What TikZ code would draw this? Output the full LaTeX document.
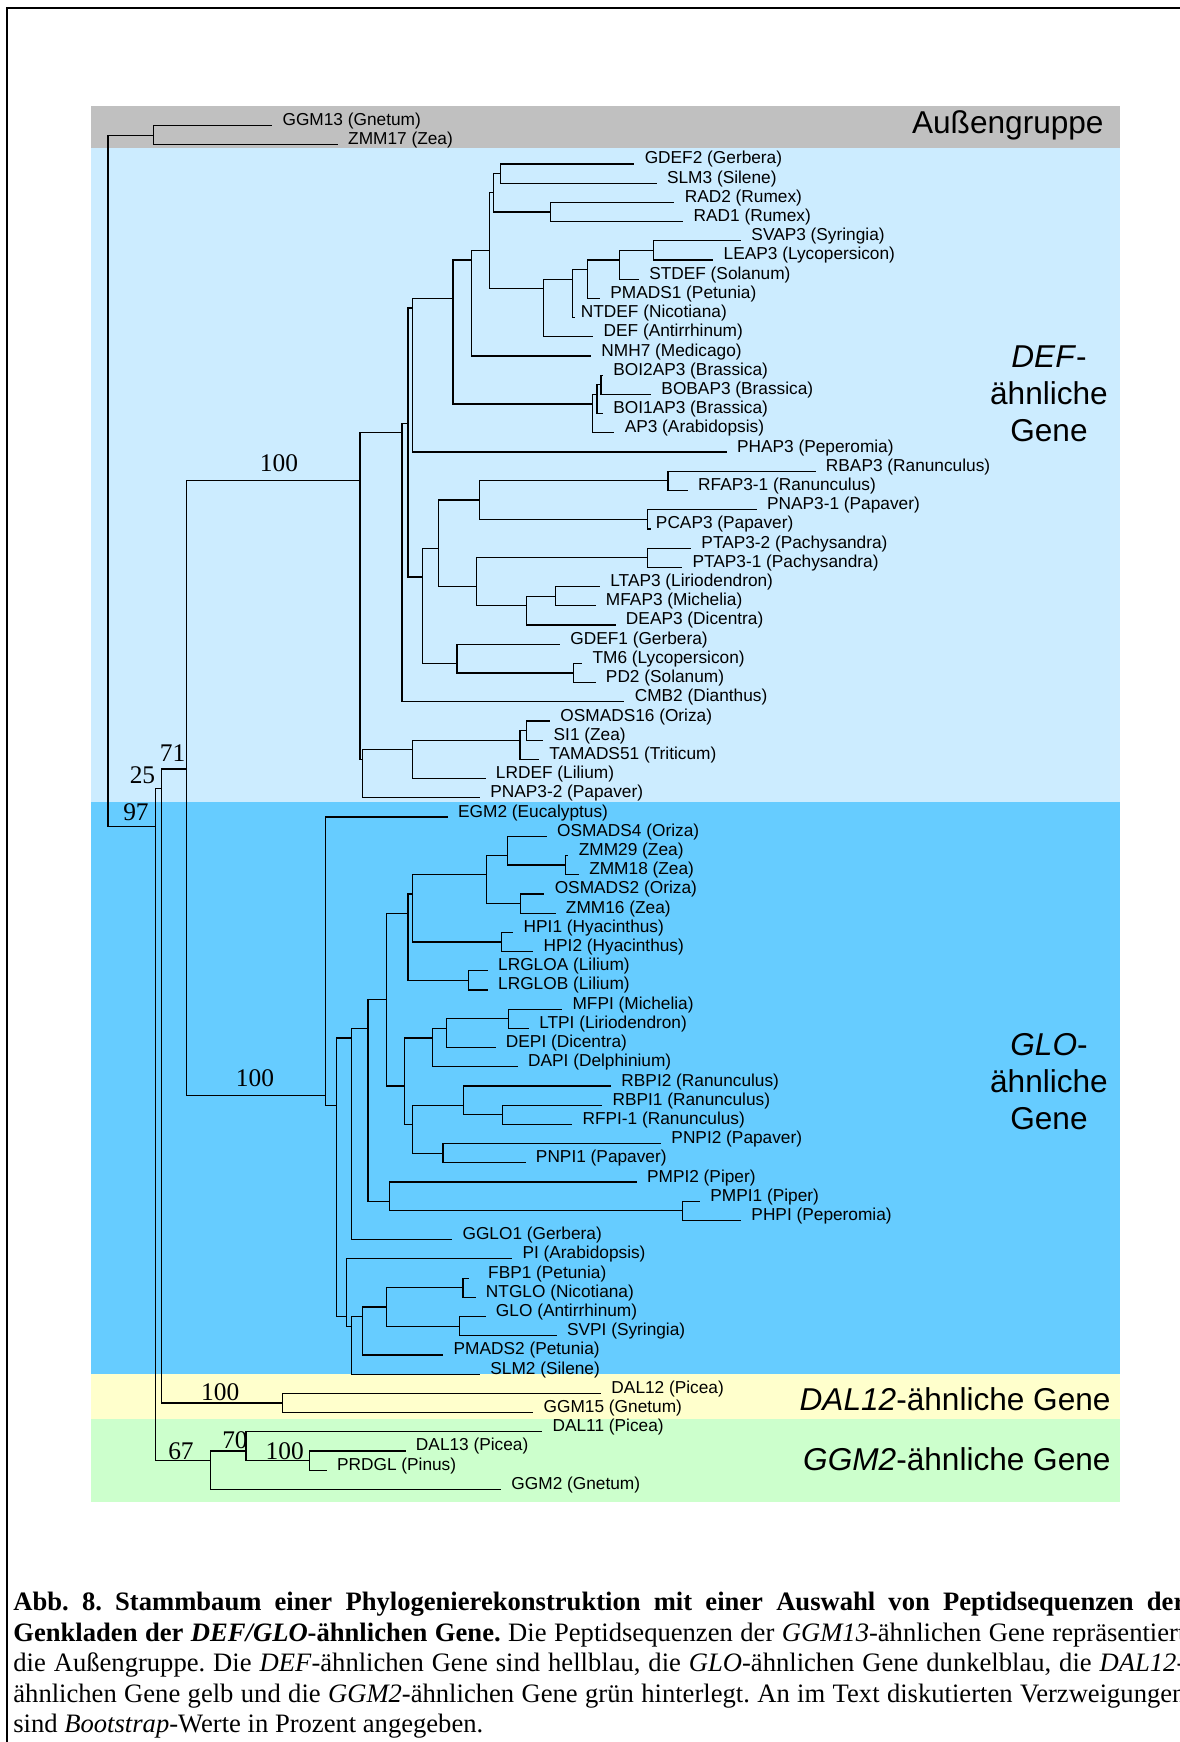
\documentclass[tikz,border=0pt]{standalone}
\usepackage{fontspec}
\setmainfont{Liberation Sans}
\newfontfamily\timesfont{Liberation Serif}
\usepackage{xcolor}
\usepackage{tikz}
\usetikzlibrary{calc, positioning}
\frenchspacing

\definecolor{cAussen}{RGB}{192,192,192}
\definecolor{cHellblau}{RGB}{204,236,255}
\definecolor{cDunkelblau}{RGB}{102,204,255}
\definecolor{cGelb}{RGB}{255,255,204}
\definecolor{cGruen}{RGB}{204,255,204}

\tikzset{
  gen/.style={anchor=base west, inner xsep=5pt, inner ysep=0pt, font=\fontsize{8.64}{10}\selectfont},
  boot/.style={anchor=base, inner sep=0pt, font=\timesfont\fontsize{12.7}{14}\selectfont},
  gruppe/.style={inner sep=0pt, font=\fontsize{15.8}{18.6}\selectfont},
  ast/.style={line width=0.6pt},
  zeile/.style={anchor=base west, inner sep=0pt, font=\timesfont\fontsize{13.3}{15.3}\selectfont},
}

\begin{document}
\begin{tikzpicture}[x=0.5pt, y=-9.605pt]
		\useasboundingbox (0,-6.533) rectangle (1180,84.15);
		\clip (0,-6.533) rectangle (1180,84.15);
		% Hintergrund
		\fill[cAussen] (91,-1.015) rectangle (1120,1.156);
		\fill[cHellblau] (91,1.156) rectangle (1120,35.2);
		\fill[cDunkelblau] (91,35.2) rectangle (1120,65);
		\fill[cGelb] (91,65) rectangle (1120,67.33);
		\fill[cGruen] (91,67.33) rectangle (1120,71.65);
		\draw[line width=0.7pt] (1180,-6.117) -| (7,84.15);
		% Gruppen
		\node[gruppe, anchor=base east] (aussen) at (1104,0.42) {Außengruppe};
		\node[gruppe, align=center] (defgr) at (1049,13.96) {\textit{DEF}-\\ähnliche\\Gene};
		\node[gruppe, align=center] (glogr) at (1049,49.77) {\textit{GLO}-\\ähnliche\\Gene};
		\node[gruppe, anchor=base east] (dalgr) at (1111,66.88) {\textit{DAL12}-ähnliche Gene};
		\node[gruppe, anchor=base east] (ggmgr) at (1111,70.0) {\textit{GGM2}-ähnliche Gene};
		% Sequenzen
		\node[gen] (ggm13) at (272.2,0) {GGM13 (Gnetum)};
		\node[gen] (zmm17) at (337.8,1) {ZMM17 (Zea)};
		\node[gen] (gdef2) at (634.4,2) {GDEF2 (Gerbera)};
		\node[gen] (slm3) at (656.7,3) {SLM3 (Silene)};
		\node[gen] (rad2) at (674.4,4) {RAD2 (Rumex)};
		\node[gen] (rad1) at (683.3,5) {RAD1 (Rumex)};
		\node[gen] (svap3) at (741.1,6) {SVAP3 (Syringia)};
		\node[gen] (leap3) at (713.3,7) {LEAP3 (Lycopersicon)};
		\node[gen] (stdef) at (638.9,8) {STDEF (Solanum)};
		\node[gen] (pmads1) at (600,9) {PMADS1 (Petunia)};
		\node[gen, inner xsep=2.5pt] (ntdef) at (575.5,10) {NTDEF (Nicotiana)};
		\node[gen] (def) at (593.3,11) {DEF (Antirrhinum)};
		\node[gen] (nmh7) at (591.1,12) {NMH7 (Medicago)};
		\node[gen] (boi2ap3) at (603,13) {BOI2AP3 (Brassica)};
		\node[gen] (bobap3) at (651.1,14) {BOBAP3 (Brassica)};
		\node[gen] (boi1ap3) at (603,15) {BOI1AP3 (Brassica)};
		\node[gen] (ap3) at (614.4,16) {AP3 (Arabidopsis)};
		\node[gen] (phap3) at (726.7,17) {PHAP3 (Peperomia)};
		\node[gen] (rbap3) at (815.6,18) {RBAP3 (Ranunculus)};
		\node[gen] (rfap31) at (687.8,19) {RFAP3-1 (Ranunculus)};
		\node[gen] (pnap31) at (756.7,20) {PNAP3-1 (Papaver)};
		\node[gen, inner xsep=2.5pt] (pcap3) at (650.6,21) {PCAP3 (Papaver)};
		\node[gen] (ptap32) at (691.1,22) {PTAP3-2 (Pachysandra)};
		\node[gen] (ptap31) at (682.2,23) {PTAP3-1 (Pachysandra)};
		\node[gen] (ltap3) at (600,24) {LTAP3 (Liriodendron)};
		\node[gen] (mfap3) at (595.6,25) {MFAP3 (Michelia)};
		\node[gen] (deap3) at (615.6,26) {DEAP3 (Dicentra)};
		\node[gen] (gdef1) at (560,27) {GDEF1 (Gerbera)};
		\node[gen] (tm6) at (582.2,28) {TM6 (Lycopersicon)};
		\node[gen] (pd2) at (595.6,29) {PD2 (Solanum)};
		\node[gen] (cmb2) at (624.4,30) {CMB2 (Dianthus)};
		\node[gen] (osmads16) at (550,31) {OSMADS16 (Oriza)};
		\node[gen] (si1) at (543.3,32) {SI1 (Zea)};
		\node[gen] (tamads51) at (538.9,33) {TAMADS51 (Triticum)};
		\node[gen] (lrdef) at (485.6,34) {LRDEF (Lilium)};
		\node[gen] (pnap32) at (480,35) {PNAP3-2 (Papaver)};
		\node[gen] (egm2) at (447.8,36) {EGM2 (Eucalyptus)};
		\node[gen] (osmads4) at (546.7,37) {OSMADS4 (Oriza)};
		\node[gen] (zmm29) at (568.5,38) {ZMM29 (Zea)};
		\node[gen] (zmm18) at (578.9,39) {ZMM18 (Zea)};
		\node[gen] (osmads2) at (544.4,40) {OSMADS2 (Oriza)};
		\node[gen] (zmm16) at (555.6,41) {ZMM16 (Zea)};
		\node[gen] (hpi1) at (513.3,42) {HPI1 (Hyacinthus)};
		\node[gen] (hpi2) at (533.3,43) {HPI2 (Hyacinthus)};
		\node[gen] (lrgloa) at (487.8,44) {LRGLOA (Lilium)};
		\node[gen] (lrglob) at (487.8,45) {LRGLOB (Lilium)};
		\node[gen] (mfpi) at (562.2,46) {MFPI (Michelia)};
		\node[gen] (ltpi) at (528.9,47) {LTPI (Liriodendron)};
		\node[gen] (depi) at (495.6,48) {DEPI (Dicentra)};
		\node[gen] (dapi) at (517.8,49) {DAPI (Delphinium)};
		\node[gen] (rbpi2) at (611.1,50) {RBPI2 (Ranunculus)};
		\node[gen] (rbpi1) at (602.2,51) {RBPI1 (Ranunculus)};
		\node[gen] (rfpi1) at (572.2,52) {RFPI-1 (Ranunculus)};
		\node[gen] (pnpi2) at (661.1,53) {PNPI2 (Papaver)};
		\node[gen] (pnpi1) at (525.6,54) {PNPI1 (Papaver)};
		\node[gen] (pmpi2) at (636.7,55) {PMPI2 (Piper)};
		\node[gen] (pmpi1) at (700,56) {PMPI1 (Piper)};
		\node[gen] (phpi) at (741.1,57) {PHPI (Peperomia)};
		\node[gen] (gglo1) at (452.2,58) {GGLO1 (Gerbera)};
		\node[gen] (piara) at (512.2,59) {PI (Arabidopsis)};
		\node[gen, inner xsep=9.5pt] (fbp1) at (468.8,60) {FBP1 (Petunia)};
		\node[gen] (ntglo) at (475.6,61) {NTGLO (Nicotiana)};
		\node[gen] (glo) at (485.6,62) {GLO (Antirrhinum)};
		\node[gen] (svpi) at (556.7,63) {SVPI (Syringia)};
		\node[gen] (pmads2) at (443.3,64) {PMADS2 (Petunia)};
		\node[gen] (slm2) at (480,65) {SLM2 (Silene)};
		\node[gen] (dal12) at (601.1,66) {DAL12 (Picea)};
		\node[gen] (ggm15) at (533.3,67) {GGM15 (Gnetum)};
		\node[gen] (dal11) at (542.2,68) {DAL11 (Picea)};
		\node[gen] (dal13) at (405.6,69) {DAL13 (Picea)};
		\node[gen] (prdgl) at (326.7,70) {PRDGL (Pinus)};
		\node[gen] (ggm2) at (501.1,71) {GGM2 (Gnetum)};
		% Verzweigungen
		\coordinate (kwurzel) at (108,35.5);
		\coordinate (kaussen) at (153.7,0.5);
		\coordinate (k97) at (155.7,36.5);
		\coordinate (k25) at (161.7,34.5);
		\coordinate (k71) at (186.5,33.5);
		\coordinate (kdal) at (282.9,66.5);
		\coordinate (k67) at (210.6,69.5);
		\coordinate (k70) at (246.1,69);
		\coordinate (kpin) at (309.7,69.5);
		\coordinate (kdef) at (360,18.5);
		\coordinate (kd1) at (402,16);
		\coordinate (kd2) at (408.1,15.5);
		\coordinate (kd3) at (412.8,9.5);
		\coordinate (kd4) at (453,9);
		\coordinate (kd5) at (471.7,7);
		\coordinate (kd6) at (489.8,6.5);
		\coordinate (kd7) at (493.8,3.5);
		\coordinate (kd8) at (500.5,2.5);
		\coordinate (krad) at (550.8,4.5);
		\coordinate (kd9) at (543.4,8.5);
		\coordinate (kd10) at (572.2,8);
		\coordinate (kd11) at (587.6,7.5);
		\coordinate (kd12) at (619.7,7);
		\coordinate (kd13) at (653.9,6.5);
		\coordinate (kbra) at (592.3,14.5);
		\coordinate (kbra2) at (597,14);
		\coordinate (kbra3) at (601,13.5);
		\coordinate (kd14) at (422.9,23.5);
		\coordinate (kd15) at (438.3,22);
		\coordinate (kd16) at (479.8,19.5);
		\coordinate (kd17) at (668,18.5);
		\coordinate (kd18) at (647.9,20.5);
		\coordinate (kd19) at (476.4,24);
		\coordinate (kpach) at (647.9,22.5);
		\coordinate (kd20) at (526.7,25);
		\coordinate (kd21) at (555.5,24.5);
		\coordinate (kd22) at (457,28);
		\coordinate (kd23) at (573.5,28.5);
		\coordinate (kd24) at (362.6,33);
		\coordinate (kd25) at (412.8,32.5);
		\coordinate (kgras) at (520,32);
		\coordinate (kgras2) at (526.7,31.5);
		\coordinate (kglo) at (325.5,50.5);
		\coordinate (kg1) at (336.5,51);
		\coordinate (kg2) at (351.2,47.5);
		\coordinate (kg3) at (368,47);
		\coordinate (kg4) at (386.7,45.5);
		\coordinate (kg5) at (408.1,41);
		\coordinate (kg6) at (412.8,40);
		\coordinate (kg7) at (486.5,39);
		\coordinate (kg8) at (507.2,38);
		\coordinate (kg9) at (565.5,38.5);
		\coordinate (kg10) at (520.6,40.5);
		\coordinate (kg11) at (501.9,42.5);
		\coordinate (kg12) at (468.4,44.5);
		\coordinate (kg13) at (404.8,50);
		\coordinate (kg14) at (432.9,47.5);
		\coordinate (kg15) at (446.3,47);
		\coordinate (kg16) at (508.6,46.5);
		\coordinate (kg17) at (412.8,52);
		\coordinate (kg18) at (463.7,51);
		\coordinate (kg19) at (502.6,51.5);
		\coordinate (kg20) at (443,53.5);
		\coordinate (kg21) at (389.4,56);
		\coordinate (kg22) at (682.7,56.5);
		\coordinate (kg23) at (346.5,62);
		\coordinate (kg24) at (351.2,62.5);
		\coordinate (kg25) at (362.6,62);
		\coordinate (kg26) at (386.7,61.5);
		\coordinate (kg27) at (463,60.5);
		\coordinate (kg28) at (459.7,62.5);
		% Aeste
		\path[draw, ast] (kwurzel) |- (kaussen) (kwurzel) |- (k97);
		\path[draw, ast] (kaussen) |- (ggm13.base west) (kaussen) |- (zmm17.base west);
		\path[draw, ast] (k97) |- (k25) (k97) |- (k67);
		\path[draw, ast] (k25) |- (k71) (k25) |- (kdal);
		\path[draw, ast] (k71) |- (kdef) (k71) |- (kglo);
		\path[draw, ast] (kdal) |- (dal12.base west) (kdal) |- (ggm15.base west);
		\path[draw, ast] (k67) |- (k70) (k67) |- (ggm2.base west);
		\path[draw, ast] (k70) |- (dal11.base west) (k70) |- (kpin);
		\path[draw, ast] (kpin) |- (dal13.base west) (kpin) |- (prdgl.base west);
		% DEF
		\path[draw, ast] (kdef) |- (kd1) (kdef) |- (kd24);
		\path[draw, ast] (kd1) |- (kd2) (kd1) |- (cmb2.base west);
		\path[draw, ast] (kd2) |- (kd3) (kd2) |- (kd14);
		\path[draw, ast] (kd3) |- (kd4) (kd3) |- (phap3.base west);
		\path[draw, ast] (kd4) |- (kd5) (kd4) |- (kbra);
		\path[draw, ast] (kd5) |- (kd6) (kd5) |- (nmh7.base west);
		\path[draw, ast] (kd6) |- (kd7) (kd6) |- (kd9);
		\path[draw, ast] (kd7) |- (kd8) (kd7) |- (krad);
		\path[draw, ast] (kd8) |- (gdef2.base west) (kd8) |- (slm3.base west);
		\path[draw, ast] (krad) |- (rad2.base west) (krad) |- (rad1.base west);
		\path[draw, ast] (kd9) |- (kd10) (kd9) |- (def.base west);
		\path[draw, ast] (kd10) |- (kd11) (kd10) |- (ntdef.base west);
		\path[draw, ast] (kd11) |- (kd12) (kd11) |- (pmads1.base west);
		\path[draw, ast] (kd12) |- (kd13) (kd12) |- (stdef.base west);
		\path[draw, ast] (kd13) |- (svap3.base west) (kd13) |- (leap3.base west);
		\path[draw, ast] (kbra) |- (kbra2) (kbra) |- (ap3.base west);
		\path[draw, ast] (kbra2) |- (kbra3) (kbra2) |- (boi1ap3.base west);
		\path[draw, ast] (kbra3) |- (boi2ap3.base west) (kbra3) |- (bobap3.base west);
		\path[draw, ast] (kd14) |- (kd15) (kd14) |- (kd22);
		\path[draw, ast] (kd15) |- (kd16) (kd15) |- (kd19);
		\path[draw, ast] (kd16) |- (kd17) (kd16) |- (kd18);
		\path[draw, ast] (kd17) |- (rbap3.base west) (kd17) |- (rfap31.base west);
		\path[draw, ast] (kd18) |- (pnap31.base west) (kd18) |- (pcap3.base west);
		\path[draw, ast] (kd19) |- (kpach) (kd19) |- (kd20);
		\path[draw, ast] (kpach) |- (ptap32.base west) (kpach) |- (ptap31.base west);
		\path[draw, ast] (kd20) |- (kd21) (kd20) |- (deap3.base west);
		\path[draw, ast] (kd21) |- (ltap3.base west) (kd21) |- (mfap3.base west);
		\path[draw, ast] (kd22) |- (gdef1.base west) (kd22) |- (kd23);
		\path[draw, ast] (kd23) |- (tm6.base west) (kd23) |- (pd2.base west);
		\path[draw, ast] (kd24) |- (kd25) (kd24) |- (pnap32.base west);
		\path[draw, ast] (kd25) |- (kgras) (kd25) |- (lrdef.base west);
		\path[draw, ast] (kgras) |- (kgras2) (kgras) |- (tamads51.base west);
		\path[draw, ast] (kgras2) |- (osmads16.base west) (kgras2) |- (si1.base west);
		% GLO
		\path[draw, ast] (kglo) |- (egm2.base west) (kglo) |- (kg1);
		\path[draw, ast] (kg1) |- (kg2) (kg1) |- (kg23);
		\path[draw, ast] (kg2) |- (kg3) (kg2) |- (gglo1.base west);
		\path[draw, ast] (kg3) |- (kg4) (kg3) |- (kg21);
		\path[draw, ast] (kg4) |- (kg5) (kg4) |- (kg13);
		\path[draw, ast] (kg5) |- (kg6) (kg5) |- (kg12);
		\path[draw, ast] (kg6) |- (kg7) (kg6) |- (kg11);
		\path[draw, ast] (kg7) |- (kg8) (kg7) |- (kg10);
		\path[draw, ast] (kg8) |- (osmads4.base west) (kg8) |- (kg9);
		\path[draw, ast] (kg9) |- (zmm29.base west) (kg9) |- (zmm18.base west);
		\path[draw, ast] (kg10) |- (osmads2.base west) (kg10) |- (zmm16.base west);
		\path[draw, ast] (kg11) |- (hpi1.base west) (kg11) |- (hpi2.base west);
		\path[draw, ast] (kg12) |- (lrgloa.base west) (kg12) |- (lrglob.base west);
		\path[draw, ast] (kg13) |- (kg14) (kg13) |- (kg17);
		\path[draw, ast] (kg14) |- (kg15) (kg14) |- (dapi.base west);
		\path[draw, ast] (kg15) |- (kg16) (kg15) |- (depi.base west);
		\path[draw, ast] (kg16) |- (mfpi.base west) (kg16) |- (ltpi.base west);
		\path[draw, ast] (kg17) |- (kg18) (kg17) |- (kg20);
		\path[draw, ast] (kg18) |- (rbpi2.base west) (kg18) |- (kg19);
		\path[draw, ast] (kg19) |- (rbpi1.base west) (kg19) |- (rfpi1.base west);
		\path[draw, ast] (kg20) |- (pnpi2.base west) (kg20) |- (pnpi1.base west);
		\path[draw, ast] (kg21) |- (pmpi2.base west) (kg21) |- (kg22);
		\path[draw, ast] (kg22) |- (pmpi1.base west) (kg22) |- (phpi.base west);
		\path[draw, ast] (kg23) |- (piara.base west) (kg23) |- (kg24);
		\path[draw, ast] (kg24) |- (kg25) (kg24) |- (slm2.base west);
		\path[draw, ast] (kg25) |- (kg26) (kg25) |- (pmads2.base west);
		\path[draw, ast] (kg26) |- (kg27) (kg26) |- (kg28);
		\path[draw, ast] (kg27) |- (fbp1.base west) (kg27) |- (ntglo.base west);
		\path[draw, ast] (kg28) |- (glo.base west) (kg28) |- (svpi.base west);
		% Bootstrap-Werte
		\node[boot] (bs97) at (136,36.2) {97};
		\node[boot] (bs25) at (142.5,34.24) {25};
		\node[boot] (bs71) at (172.5,33.12) {71};
		\node[boot] (bsdef) at (279,18.02) {100};
		\node[boot] (bsglo) at (255,50.05) {100};
		\node[boot] (bsdal) at (220.3,66.35) {100};
		\node[boot] (bs67) at (181,69.42) {67};
		\node[boot] (bs70) at (235,68.85) {70};
		\node[boot] (bspin) at (284.7,69.42) {100};
		% Bildunterschrift
		\node[zeile] (zeile1) at (13,77.31) {\makebox[586pt][s]{\bfseries Abb. 8. Stammbaum einer Phylogenierekonstruktion mit einer Auswahl von Peptidsequenzen der}};
		\node[zeile] (zeile2) at (13,78.90) {\makebox[586pt][s]{\bfseries Genkladen der \textit{DEF/GLO}-ähnlichen Gene.\mdseries{} Die Peptidsequenzen der \textit{GGM13}-ähnlichen Gene repräsentiert}};
		\node[zeile] (zeile3) at (13,80.49) {\makebox[586pt][s]{die Außengruppe. Die \textit{DEF}-ähnlichen Gene sind hellblau, die \textit{GLO}-ähnlichen Gene dunkelblau, die \textit{DAL12}-}};
		\node[zeile] (zeile4) at (13,82.08) {\makebox[586pt][s]{ähnlichen Gene gelb und die \textit{GGM2}-ähnlichen Gene grün hinterlegt. An im Text diskutierten Verzweigungen}};
		\node[zeile] (zeile5) at (13,83.67) {sind \textit{Bootstrap}-Werte in Prozent angegeben.};
	\end{tikzpicture}
\end{document}
